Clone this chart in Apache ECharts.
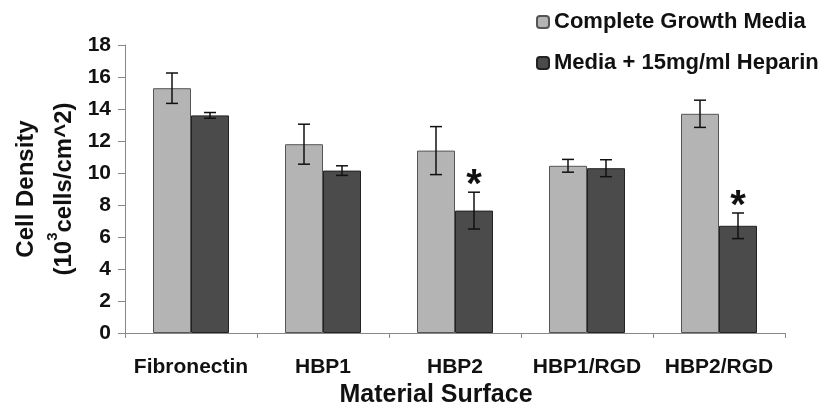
<!DOCTYPE html>
<html>
<head>
<meta charset="utf-8">
<script src="https://cdn.jsdelivr.net/npm/echarts@6/dist/echarts.min.js"></script>
<style>
html,body{margin:0;padding:0;background:#fff;}
#chart{width:824px;height:412px;}
</style>
</head>
<body>
<div id="chart"></div>
<script>
const categories = ['Fibronectin', 'HBP1', 'HBP2', 'HBP1/RGD', 'HBP2/RGD'];
const seriesNames = ['Complete Growth Media', 'Media + 15mg/ml Heparin'];
const completeValues = [15.3, 11.8, 11.4, 10.45, 13.7];
const completeErrors = [0.95, 1.25, 1.5, 0.4, 0.85];
const heparinValues = [13.6, 10.15, 7.65, 10.3, 6.7];
const heparinErrors = [0.18, 0.3, 1.15, 0.53, 0.8];
const significant = [false, false, true, false, true];
const yTicks = { min: 0, max: 18, interval: 2 };

const FONT = '"Liberation Sans", Arial, sans-serif';
const BAR_W = 38;
const LIGHT = '#b4b4b4';
const DARK = '#4b4b4b';

function errorSeries(values, errors, sign, withStar) {
  return {
    type: 'custom',
    name: 'err' + sign,
    z: 5,
    data: values.map((v, i) => [i, v, errors[i], withStar && significant[i] ? 1 : 0]),
    renderItem: function (params, api) {
      const idx = api.value(0), v = api.value(1), e = api.value(2), star = api.value(3);
      const top = api.coord([idx, v + e]);
      const bot = api.coord([idx, v - e]);
      const x = top[0] + sign * BAR_W / 2;
      const cap = 6;
      const st = { stroke: '#111', lineWidth: 1.5 };
      const children = [
        { type: 'line', shape: { x1: x, y1: top[1], x2: x, y2: bot[1] }, style: st },
        { type: 'line', shape: { x1: x - cap, y1: top[1], x2: x + cap, y2: top[1] }, style: st },
        { type: 'line', shape: { x1: x - cap, y1: bot[1], x2: x + cap, y2: bot[1] }, style: st }
      ];
      if (star) {
        children.push({
          type: 'text',
          style: {
            text: '*', x: x, y: top[1] - 26,
            fontSize: 40, fontWeight: 'bold', fontFamily: FONT, fill: '#111',
            align: 'center', verticalAlign: 'top'
          }
        });
      }
      return { type: 'group', children: children };
    }
  };
}

const chart = echarts.init(document.getElementById('chart'));
chart.setOption({
  animation: false,
  backgroundColor: '#fff',
  textStyle: { fontFamily: FONT },
  grid: { left: 125, right: 39, top: 45, bottom: 79, containLabel: false, outerBoundsMode: 'none' },
  legend: {
    data: seriesNames,
    orient: 'vertical',
    left: 531,
    top: 6,
    itemWidth: 12,
    itemHeight: 12,
    itemGap: 19,
    textStyle: { fontSize: 22, fontWeight: 'bold', color: '#111', fontFamily: FONT }
  },
  xAxis: {
    type: 'category',
    data: categories,
    boundaryGap: true,
    axisLine: { lineStyle: { color: '#888', width: 1 } },
    axisTick: { show: true, length: 5, lineStyle: { color: '#888' } },
    axisLabel: { interval: 0, fontSize: 21, fontWeight: 'bold', color: '#111', margin: 24, fontFamily: FONT },
    name: 'Material Surface',
    nameLocation: 'middle',
    nameGap: 47,
    nameTextStyle: { fontSize: 25, fontWeight: 'bold', color: '#111', fontFamily: FONT, padding: [0, 38, 0, 0] }
  },
  yAxis: {
    type: 'value',
    min: yTicks.min, max: yTicks.max, interval: yTicks.interval,
    axisLine: { show: true, lineStyle: { color: '#888', width: 1 } },
    axisTick: { show: true, length: 7, lineStyle: { color: '#888' } },
    splitLine: { show: false },
    axisLabel: { fontSize: 21, fontWeight: 'bold', color: '#111', margin: 14, fontFamily: FONT },
    name: '{a|Cell Density}\n{a|(10}{s|3}{a|cells/cm^2)}',
    nameLocation: 'middle',
    nameGap: 42,
    nameRotate: 90,
    nameTextStyle: {
      color: '#111',
      rich: {
        a: { fontSize: 24, fontWeight: 'bold', fontFamily: FONT, color: '#111', lineHeight: 38 },
        s: { fontSize: 15, fontWeight: 'bold', fontFamily: FONT, color: '#111', verticalAlign: 'top', lineHeight: 22 }
      }
    }
  },
  series: [
    {
      name: seriesNames[0], type: 'bar', data: completeValues, barWidth: BAR_W, barGap: '0%',
      itemStyle: { color: LIGHT, borderColor: '#555', borderWidth: 1 }
    },
    {
      name: seriesNames[1], type: 'bar', data: heparinValues, barWidth: BAR_W, barGap: '0%',
      itemStyle: { color: DARK, borderColor: '#222', borderWidth: 1 }
    },
    errorSeries(completeValues, completeErrors, -1, false),
    errorSeries(heparinValues, heparinErrors, 1, true)
  ]
});
</script>
</body>
</html>
